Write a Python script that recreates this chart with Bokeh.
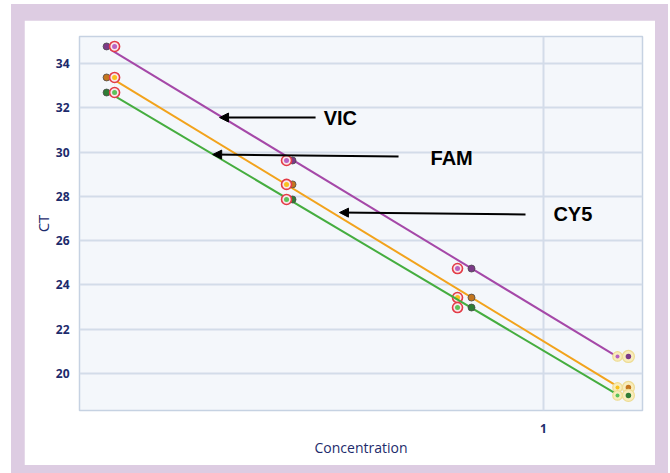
import numpy as np
from bokeh.plotting import figure
from bokeh.layouts import column
from bokeh.models import Range1d, FixedTicker, Arrow, NormalHead, Label
from bokeh.embed import file_html
from bokeh.resources import INLINE

# Standard-curve data: two replicate wells per dilution
conc_a = [0.1757, 0.3528, 0.7057, 1.350]
conc_b = [0.1701, 0.3615, 0.7469, 1.411]

vic_ct_a = [34.77, 29.62, 24.74, 20.77]
vic_ct_b = [34.77, 29.62, 24.74, 20.77]
fam_ct_a = [33.37, 28.54, 23.43, 19.37]
fam_ct_b = [33.37, 28.54, 23.43, 19.37]
cy5_ct_a = [32.69, 27.86, 22.98, 19.01]
cy5_ct_b = [32.69, 27.86, 22.98, 19.01]

y_ticks = [18, 20, 22, 24, 26, 28, 30, 32, 34]
x_ticks = [1]

NAVY = "#1d2b6c"
GRID = "#d3dce9"
RED = "#e33b47"
HALO_FILL = "#f8edbd"
HALO_LINE = "#eedc93"
FRAME = "#ddcce2"

p = figure(width=631, height=445, x_axis_type="log",
           x_range=Range1d(0.1524, 1.494), y_range=Range1d(18.33, 35.22),
           output_backend="svg", toolbar_location=None,
           min_border_left=55, min_border_right=13,
           min_border_top=16, min_border_bottom=55)

p.background_fill_color = "#f4f7fb"
p.border_fill_color = "white"
p.outline_line_color = "#c6d2e2"
p.outline_line_width = 1.5

# axes
p.xaxis.ticker = FixedTicker(ticks=x_ticks)
p.xaxis.major_label_overrides = {1: "1"}
p.yaxis.ticker = FixedTicker(ticks=y_ticks)
p.xgrid.ticker = FixedTicker(ticks=x_ticks)
for ax in (p.xaxis, p.yaxis):
    ax.axis_line_color = None
    ax.major_tick_line_color = None
    ax.minor_tick_line_color = None
    ax.major_tick_out = 0
    ax.major_tick_in = 0
    ax.minor_tick_out = 0
    ax.minor_tick_in = 0
    ax.major_label_text_color = NAVY
    ax.major_label_text_font = "Open Sans"
    ax.major_label_text_font_size = "12px"
    ax.major_label_text_font_style = "bold"
    ax.axis_label_text_color = NAVY
    ax.axis_label_text_font = "Open Sans"
    ax.axis_label_text_font_size = "14px"
    ax.axis_label_text_font_style = "normal"
p.xaxis.axis_label = "Concentration"
p.yaxis.axis_label = "CT"
p.yaxis.axis_label_text_font_size = "15px"
p.xaxis.major_label_standoff = 13
p.xaxis.axis_label_standoff = 2
p.yaxis.major_label_standoff = 10
p.yaxis.axis_label_standoff = 0

for g in (p.xgrid, p.ygrid):
    g.grid_line_color = GRID
    g.grid_line_width = 2

series = [
    ("VIC", vic_ct_a, vic_ct_b, "#a548a8", "#b862c2", "#7c3a88"),
    ("FAM", fam_ct_a, fam_ct_b, "#f2a31c", "#f8c21f", "#c4761e"),
    ("CY5", cy5_ct_a, cy5_ct_b, "#45ad3f", "#5cc35a", "#2f7d35"),
]

for name, ct_a, ct_b, line_c, dot_c, dark_c in series:
    # linear fit of CT against log10(concentration)
    lx = np.log10(np.array(conc_a + conc_b))
    ly = np.array(ct_a + ct_b)
    slope, icpt = np.polyfit(lx, ly, 1)
    x0 = np.sqrt(conc_a[0] * conc_b[0])
    x1 = conc_a[-1]
    xs = [x0, x1]
    ys = [slope * np.log10(v) + icpt for v in xs]
    p.line(xs, ys, line_color=line_c, line_width=2)

    # replicate B
    p.scatter(conc_b[:-1], ct_b[:-1], size=7, fill_color=dark_c,
              line_color="#4a4a4a", line_width=0.8)
    p.scatter(conc_b[-1:], ct_b[-1:], size=12, fill_color=HALO_FILL,
              line_color=HALO_LINE, line_width=1.2)
    p.scatter(conc_b[-1:], ct_b[-1:], size=5.5, fill_color=dark_c,
              line_color=None)

    # replicate A
    p.scatter(conc_a[:-1], ct_a[:-1], size=10, fill_color="#f9e6ea",
              line_color=RED, line_width=1.6)
    p.scatter(conc_a[:-1], ct_a[:-1], size=5, fill_color=dot_c,
              line_color=None)
    p.scatter(conc_a[-1:], ct_a[-1:], size=9.5, fill_color=HALO_FILL,
              line_color=HALO_LINE, line_width=1.2)
    p.scatter(conc_a[-1:], ct_a[-1:], size=4, fill_color=dot_c,
              line_color=None)

# callout arrows and dye names
callouts = [
    ("VIC", 0.3969, 31.56, 0.2689, 31.56, 0.4101, 31.56),
    ("FAM", 0.5556, 29.80, 0.2615, 29.89, 0.6326, 29.75),
    ("CY5", 0.9297, 27.18, 0.4373, 27.27, 1.041, 27.22),
]
for text, xs_, ys_, xe, ye, tx, ty in callouts:
    p.add_layout(Arrow(x_start=xs_, y_start=ys_, x_end=xe, y_end=ye,
                       line_color="black", line_width=2,
                       end=NormalHead(size=9, fill_color="black",
                                      line_color="black")))
    p.add_layout(Label(x=tx, y=ty, text=text, text_font="Liberation Sans",
                       text_font_style="bold", text_font_size="20px",
                       text_color="black", text_baseline="middle",
                       text_align="left"))

layout = column(p, styles={"background-color": FRAME,
                           "padding": "16px 13px 8px 13px",
                           "margin": "4px 0 0 11px"})

open("out.html", "w").write(file_html(layout, INLINE))
